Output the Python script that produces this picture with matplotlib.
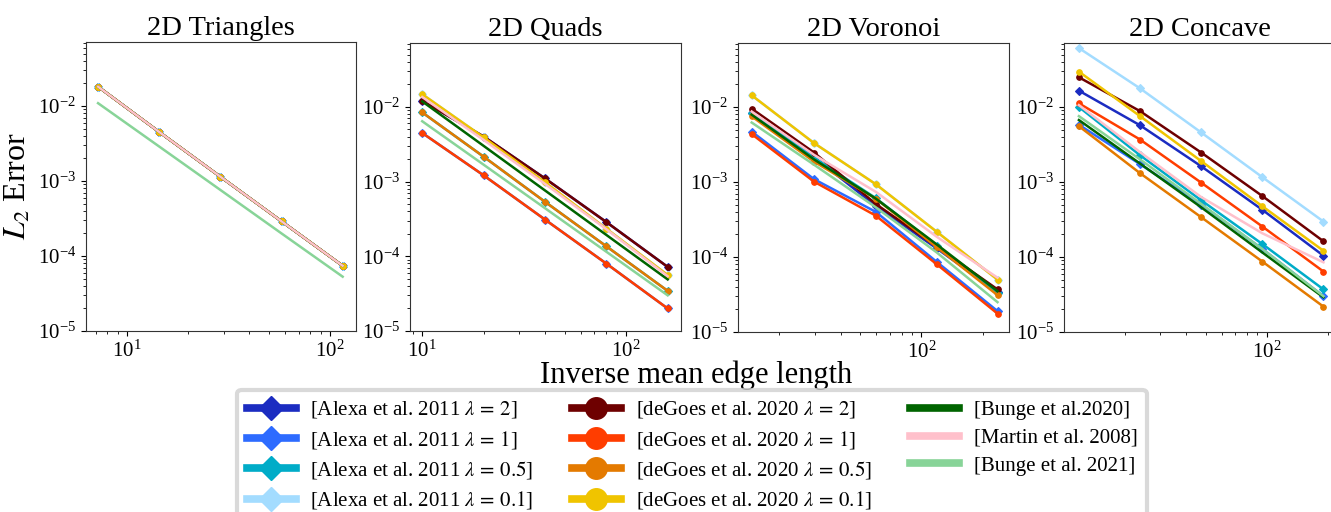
import matplotlib
matplotlib.use("Agg")
import matplotlib.pyplot as plt
from matplotlib.lines import Line2D

plt.rcParams["font.family"] = "Liberation Serif"
plt.rcParams["mathtext.fontset"] = "stix"

# --- methods (legend order) ---
LABELS = [
    r"[Alexa et al. 2011 $\lambda\,=\,2$]",
    r"[Alexa et al. 2011 $\lambda\,=\,1$]",
    r"[Alexa et al. 2011 $\lambda\,=\,0.5$]",
    r"[Alexa et al. 2011 $\lambda\,=\,0.1$]",
    r"[deGoes et al. 2020 $\lambda\,=\,2$]",
    r"[deGoes et al. 2020 $\lambda\,=\,1$]",
    r"[deGoes et al. 2020 $\lambda\,=\,0.5$]",
    r"[deGoes et al. 2020 $\lambda\,=\,0.1$]",
    "[Bunge et al.2020]",
    "[Martin et al. 2008]",
    "[Bunge et al. 2021]",
]
KEYS = ["a2", "a1", "a05", "a01", "g2", "g1", "g05", "g01", "b20", "m08", "b21"]
COLORS = ["#1b2cc1", "#2d6bff", "#00acc8", "#a3dcff",
          "#6e0000", "#ff3d00", "#e47a00", "#f0c400",
          "#006400", "#ffc0cb", "#88d498"]
MARKERS = ["D", "D", "D", "D", "o", "o", "o", "o", None, None, None]

# --- 2D Triangles ---
TRI_X = [7.2, 14.4, 28.8, 57.6, 115.2]
tri_common = [1.81e-2, 4.5e-3, 1.14e-3, 2.9e-4, 7.4e-5]
TRI_ERR = {k: tri_common for k in KEYS[:10]}
TRI_ERR["b21"] = [1.09e-2, 2.88e-3, 7.6e-4, 2.0e-4, 5.3e-5]

# --- 2D Quads ---
QUAD_X = [10, 20, 40, 80, 160]
quad_g2 = [1.2e-2, 4.0e-3, 1.1e-3, 2.87e-4, 7.2e-5]
quad_g1 = [4.46e-3, 1.21e-3, 3.1e-4, 7.98e-5, 2.0e-5]
quad_g05 = [8.4e-3, 2.15e-3, 5.36e-4, 1.36e-4, 3.44e-5]
quad_g01 = [1.47e-2, 3.9e-3, 9.8e-4, 2.34e-4, 5.6e-5]
QUAD_ERR = {
    "a2": quad_g2, "a1": quad_g1, "a05": quad_g05, "a01": quad_g01,
    "g2": quad_g2, "g1": quad_g1, "g05": quad_g05, "g01": quad_g01,
    "b20": [1.18e-2, 3.0e-3, 7.6e-4, 1.93e-4, 4.9e-5],
    "m08": [1.35e-2, 3.6e-3, 9.3e-4, 2.3e-4, 5.4e-5],
    "b21": [6.4e-3, 1.68e-3, 4.4e-4, 1.15e-4, 3.0e-5],
}

# --- 2D Voronoi ---
VOR_X = [14.6, 29.6, 59.6, 119, 237]
VOR_ERR = {
    "a2": [8.3e-3, 2.15e-3, 4.8e-4, 1.3e-4, 3.4e-5],
    "a1": [4.7e-3, 1.09e-3, 4.0e-4, 8.6e-5, 1.9e-5],
    "a05": [8.3e-3, 2.1e-3, 6.1e-4, 1.42e-4, 3.3e-5],
    "a01": [1.43e-2, 3.3e-3, 9.35e-4, 2.17e-4, 5.0e-5],
    "g2": [9.5e-3, 2.47e-3, 5.1e-4, 1.37e-4, 3.7e-5],
    "g1": [4.35e-3, 1.01e-3, 3.56e-4, 8.0e-5, 1.76e-5],
    "g05": [7.5e-3, 1.87e-3, 6.0e-4, 1.35e-4, 3.1e-5],
    "g01": [1.43e-2, 3.3e-3, 9.35e-4, 2.17e-4, 5.0e-5],
    "b20": [7.9e-3, 2.0e-3, 6.0e-4, 1.47e-4, 3.5e-5],
    "m08": [8.7e-3, 2.3e-3, 7.4e-4, 1.86e-4, 5.3e-5],
    "b21": [6.2e-3, 1.7e-3, 4.6e-4, 1.15e-4, 2.5e-5],
}

# --- 2D Concave ---
CONC_X = [11.9, 23.8, 47.6, 95.2, 190.4]
CONC_ERR = {
    "a2": [1.65e-2, 5.7e-3, 1.62e-3, 4.26e-4, 1.04e-4],
    "a1": [5.8e-3, 1.73e-3, 5.0e-4, 1.28e-4, 3.0e-5],
    "a05": [1.0e-2, 2.27e-3, 5.7e-4, 1.49e-4, 3.7e-5],
    "a01": [6.1e-2, 1.77e-2, 4.57e-3, 1.16e-3, 2.97e-4],
    "g2": [2.49e-2, 8.8e-3, 2.47e-3, 6.5e-4, 1.62e-4],
    "g1": [1.12e-2, 3.68e-3, 9.8e-4, 2.55e-4, 6.4e-5],
    "g05": [5.55e-3, 1.31e-3, 3.39e-4, 8.7e-5, 2.18e-5],
    "g01": [2.96e-2, 7.55e-3, 1.9e-3, 4.75e-4, 1.21e-4],
    "b20": [6.7e-3, 1.76e-3, 4.6e-4, 1.15e-4, 2.9e-5],
    "m08": [1.06e-2, 2.5e-3, 6.3e-4, 2.07e-4, 8.5e-5],
    "b21": [7.55e-3, 2.0e-3, 5.1e-4, 1.28e-4, 3.0e-5],
}

PANELS = [
    ("2D Triangles", TRI_X, TRI_ERR, (6.28, 134)),
    ("2D Quads", QUAD_X, QUAD_ERR, (8.71, 186)),
    ("2D Voronoi", VOR_X, VOR_ERR, (12.5, 270)),
    ("2D Concave", CONC_X, CONC_ERR, (10.05, 217)),
]

W, H = 1331, 512
fig = plt.figure(figsize=(W / 100, H / 100), dpi=100)

# axes boxes in pixels: left, right, top, bottom
boxes = [(86, 356, 42, 331), (410, 681, 43, 331),
         (738, 1009, 43, 332), (1064, 1335, 43, 332)]

for (title, xs, errs, xlim), (l, r, t, b) in zip(PANELS, boxes):
    ax = fig.add_axes([l / W, 1 - b / H, (r - l) / W, (b - t) / H])
    for key, color, marker in zip(KEYS, COLORS, MARKERS):
        ax.plot(xs, errs[key], color=color, lw=1.8, marker=marker,
                markersize=4.5 if marker == "D" else 4, markeredgewidth=0.8)
    ax.set_xscale("log")
    ax.set_yscale("log")
    ax.set_xlim(*xlim)
    ax.set_ylim(1e-5, 0.0713)
    ax.set_yticks([1e-5, 1e-4, 1e-3, 1e-2])
    ax.set_title(title, fontsize=20.5, pad=5)
    ax.tick_params(labelsize=15)
    for s in ax.spines.values():
        s.set_color("#333333")

fig.axes[0].set_ylabel(r"$L_2$ Error", fontsize=23, labelpad=4)
fig.text(696 / W, 1 - 383 / H, "Inverse mean edge length", fontsize=22,
         ha="center", va="baseline")

handles = []
for label, color, marker in zip(LABELS, COLORS, MARKERS):
    handles.append(Line2D([], [], color=color, lw=5.5, marker=marker,
                          markersize=12.5 if marker == "D" else 15.5,
                          label=label))

leg = fig.legend(handles=handles, ncol=3, loc="upper center",
                 bbox_to_anchor=(692 / W, 1 - 390 / H), borderaxespad=0,
                 fontsize=15, handlelength=2.35, handletextpad=0.7,
                 columnspacing=1.85, labelspacing=0.4, frameon=True,
                 fancybox=True, borderpad=0.45)
frame = leg.get_frame()
frame.set_edgecolor("#d0d0d0")
frame.set_linewidth(3)

fig.savefig("out.png", dpi=100)
